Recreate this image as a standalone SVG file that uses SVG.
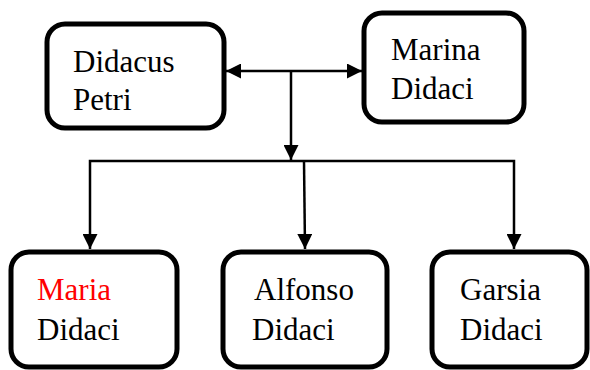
<svg xmlns="http://www.w3.org/2000/svg" width="590" height="370" viewBox="0 0 590 370">
<style>
.box{fill:#fff;stroke:#000;stroke-width:5}
.t{font-family:"Liberation Serif","Times New Roman",serif;font-size:31px;fill:#000}
.red{fill:#ff0000}
.c{fill:none;stroke:#000;stroke-width:2.5}
</style>
<defs>
<marker id="ah" viewBox="0 0 10 10" refX="10" refY="5" markerWidth="16" markerHeight="15" markerUnits="userSpaceOnUse" orient="auto-start-reverse">
<path d="M0,0L10,5L0,10z" fill="#000"/>
</marker>
</defs>
<g id="connectors">
<line class="c" x1="226" y1="71" x2="362" y2="71" marker-start="url(#ah)" marker-end="url(#ah)"/>
<line class="c" x1="291" y1="71" x2="291" y2="160" marker-end="url(#ah)"/>
<polyline class="c" points="90,249 90,161 514,161 514,249" marker-start="url(#ah)" marker-end="url(#ah)"/>
<line class="c" x1="304" y1="161" x2="305" y2="249" marker-end="url(#ah)"/>
</g>
<g id="didacus">
<rect class="box" x="47" y="24" width="177" height="104" rx="18"/>
<text class="t" x="73" y="72">Didacus</text>
<text class="t" x="73" y="110">Petri</text>
</g>
<g id="marina">
<rect class="box" x="364" y="13" width="160" height="109" rx="18"/>
<text class="t" x="391" y="60">Marina</text>
<text class="t" x="391" y="99">Didaci</text>
</g>
<g id="maria">
<rect class="box" x="11" y="252" width="166" height="115" rx="18"/>
<text class="t red" x="37" y="300">Maria</text>
<text class="t" x="37" y="340">Didaci</text>
</g>
<g id="alfonso">
<rect class="box" x="223" y="252" width="164" height="115" rx="18"/>
<text class="t" x="254" y="300">Alfonso</text>
<text class="t" x="252" y="340">Didaci</text>
</g>
<g id="garsia">
<rect class="box" x="432" y="252" width="155" height="115" rx="18"/>
<text class="t" x="460" y="300">Garsia</text>
<text class="t" x="460" y="340">Didaci</text>
</g>
</svg>
